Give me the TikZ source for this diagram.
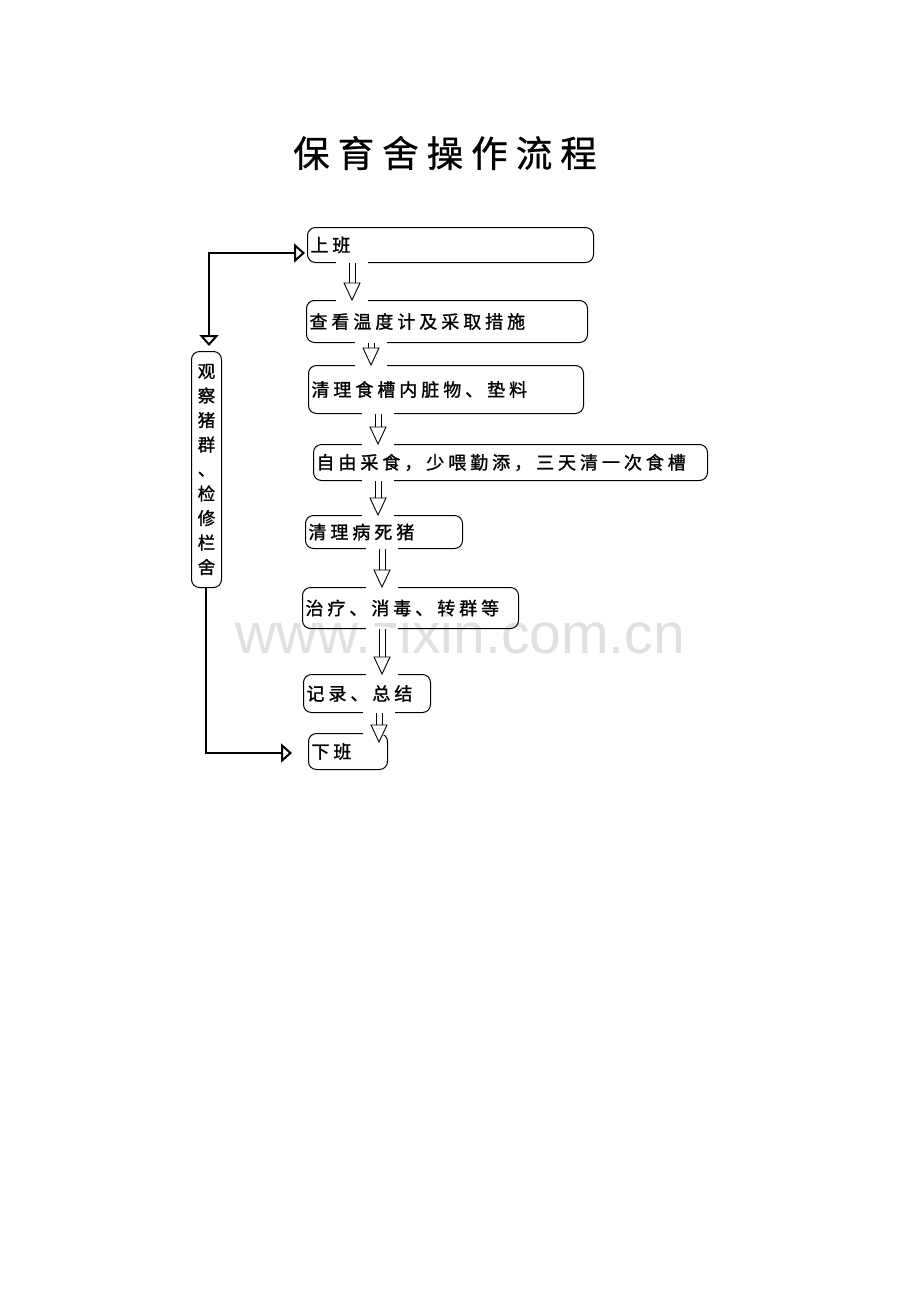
\documentclass[tikz,border=0pt]{standalone}
\usepackage{fontspec}
\newfontfamily\cjk{Noto Sans CJK SC}[LetterSpace=22,FakeBold=1.2]
\newfontfamily\cjkt{Noto Sans CJK SC}[LetterSpace=22,FakeBold=0.8]
\newfontfamily\cjkv{Noto Sans CJK SC}[FakeBold=1.2]
\newfontfamily\wm{Liberation Sans}
\usetikzlibrary{arrows.meta}
\tikzset{
  x=1pt,y=-1pt,
  box/.style={draw=black,line width=1pt,rounded corners=8pt,anchor=north west,
    inner xsep=3pt,inner ysep=0pt,align=left,
    font=\cjk\fontsize{18}{20}\selectfont},
  sidebox/.style={draw=black,line width=1pt,rounded corners=8pt,anchor=north west,
    inner sep=0pt,align=center,minimum width=30pt,minimum height=236pt,
    font=\cjkv\fontsize{17.5}{24.5}\selectfont},
  shaft/.style={draw=black,line width=0.9pt},
  head/.style={draw=black,line width=0.9pt,fill=white,line join=miter},
  loopline/.style={draw=black,line width=2.6pt,line join=miter},
  looptip/.tip={Triangle[open,length=11pt,width=19pt,line width=2pt]}
}
\newcommand{\dArrow}[4][0]{%
  \coordinate (tmpx) at (#4,0);
  \coordinate (tmps) at (#2.south -| tmpx);
  \coordinate (tmpe) at ([yshift=-#1pt]#3.north -| tmpx);
  \fill[white] ([xshift=-16pt,yshift=1.5pt]tmps) rectangle ([xshift=16pt,yshift=-1.5pt]#3.north -| tmpx);
  \draw[shaft] ([xshift=-3pt]tmps) -- ([xshift=-3pt,yshift=17pt]tmpe);
  \draw[shaft] ([xshift=3pt]tmps) -- ([xshift=3pt,yshift=17pt]tmpe);
  \draw[head] (tmpe) -- ([xshift=-8pt,yshift=17pt]tmpe) -- ([xshift=8pt,yshift=17pt]tmpe) -- cycle;
}
\begin{document}
\begin{tikzpicture}
\useasboundingbox[fill=white] (0,0) rectangle (920,1302);

\node[text=black!12,font=\wm\fontsize{57}{60}\selectfont] (wmark) at (460,633) {www.zixin.com.cn};

\node[font=\cjkt\fontsize{36.5}{40}\selectfont] (title) at (445,153) {保育舍操作流程};

\node[box,minimum width=286pt,minimum height=35pt,text width=280pt] (b1) at (307,227) {上班};
\node[box,minimum width=281pt,minimum height=42pt,text width=275pt] (b2) at (306,300) {查看温度计及采取措施};
\node[box,minimum width=275pt,minimum height=48pt,text width=269pt] (b3) at (308,365) {清理食槽内脏物、垫料};
\node[box,minimum width=394pt,minimum height=36pt,text width=388pt] (b4) at (313,444) {自由采食，少喂勤添，三天清一次食槽};
\node[box,minimum width=157pt,minimum height=33pt,text width=151pt] (b5) at (305,515) {清理病死猪};
\node[box,minimum width=216pt,minimum height=41pt,text width=210pt] (b6) at (302,587) {治疗、消毒、转群等};
\node[box,minimum width=127pt,minimum height=38pt,text width=121pt] (b7) at (303,674) {记录、总结};
\node[box,minimum width=79pt,minimum height=36pt,text width=73pt] (b8) at (308,733) {下班};

\node[sidebox] (side) at (191,351) {观\\察\\猪\\群\\、\\检\\修\\栏\\舍};

\dArrow{b1}{b2}{352}
\dArrow{b2}{b3}{371}
\dArrow{b3}{b4}{378}
\dArrow{b4}{b5}{378}
\dArrow{b5}{b6}{382}
\dArrow{b6}{b7}{382}
\dArrow[9]{b7}{b8}{379}

\coordinate (lx) at (209,0);
\coordinate (lx2) at (206,0);
\coordinate (ly1) at (0,253);
\coordinate (ly2) at (0,753);
\draw[loopline,{looptip}-{looptip},shorten <=2pt,shorten >=5pt]
  (b1.west |- ly1) -| (side.north -| lx);
\draw[loopline,-{looptip},shorten >=16pt]
  (side.south -| lx2) |- (b8.west |- ly2);
\end{tikzpicture}
\end{document}
